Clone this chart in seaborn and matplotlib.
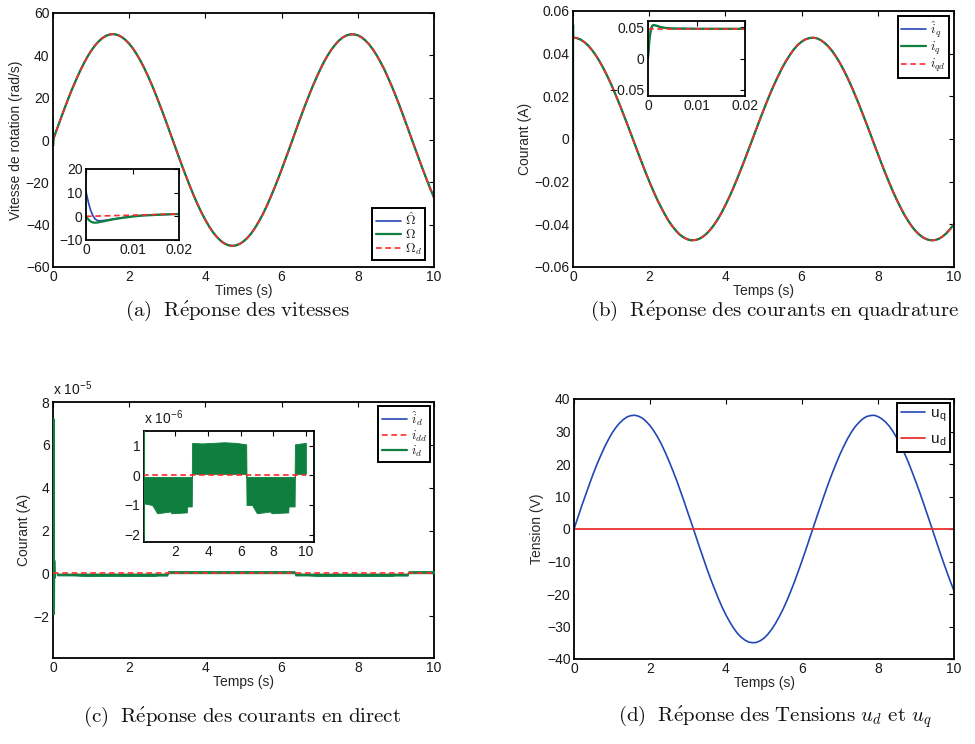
import numpy as np
import matplotlib
matplotlib.use("Agg")
import matplotlib.pyplot as plt
from matplotlib.ticker import FuncFormatter
import seaborn as sns

# ---------------------------------------------------------------- data
# sampling instants of the 10 s simulation (0.1 s step)
temps = np.linspace(0.0, 10.0, 101)

# (a) rotation speed reference Omega_d (rad/s)
vitesse_ref = [0, 5.0, 9.9, 14.8, 19.5, 24.0, 28.2, 32.2, 35.9, 39.2,
               42.1, 44.6, 46.6, 48.2, 49.3, 49.9, 50.0, 49.6, 48.7, 47.3,
               45.5, 43.2, 40.4, 37.3, 33.8, 29.9, 25.8, 21.4, 16.7, 12.0,
               7.1, 2.1, -2.9, -7.9, -12.8, -17.5, -22.1, -26.5, -30.6, -34.4,
               -37.8, -40.9, -43.6, -45.8, -47.6, -48.9, -49.7, -50.0, -49.8, -49.1,
               -47.9, -46.3, -44.2, -41.6, -38.6, -35.3, -31.6, -27.5, -23.2, -18.7,
               -14.0, -9.1, -4.2, 0.8, 5.8, 10.8, 15.6, 20.2, 24.7, 28.9,
               32.8, 36.5, 39.7, 42.5, 44.9, 46.9, 48.4, 49.4, 49.9, 49.9,
               49.5, 48.5, 47.0, 45.1, 42.7, 39.9, 36.7, 33.2, 29.2, 25.1,
               20.6, 16.0, 11.1, 6.2, 1.2, -3.8, -8.7, -13.6, -18.3, -22.9,
               -27.2]
# start-up transient of the speed (first 20 ms)
t_demarrage = [0, 0.0005, 0.001, 0.0015, 0.002, 0.0025, 0.003, 0.004, 0.005,
               0.006, 0.008, 0.010, 0.012, 0.015, 0.020]
vitesse_est_dem = [10.5, 6.0, 2.5, 0.2, -1.2, -1.8, -1.9, -1.7, -1.4, -1.1,
                   -0.5, 0.0, 0.4, 0.7, 1.0]
vitesse_mes_dem = [0, -1.3, -2.2, -2.6, -2.7, -2.6, -2.4, -2.0, -1.6, -1.2,
                   -0.6, -0.1, 0.3, 0.6, 1.0]
vitesse_ref_dem = [0, 0.025, 0.05, 0.075, 0.1, 0.125, 0.15, 0.2, 0.25, 0.3,
                   0.4, 0.5, 0.6, 0.75, 1.0]

# (b) quadrature current reference i_qd (A)
courant_q_ref = [0.0475, 0.0473, 0.0466, 0.0454, 0.0438, 0.0417, 0.0392, 0.0363, 0.0331, 0.0295,
                 0.0257, 0.0215, 0.0172, 0.0127, 0.0081, 0.0034, -0.0014, -0.0061, -0.0108, -0.0154,
                 -0.0198, -0.0240, -0.0280, -0.0316, -0.0350, -0.0381, -0.0407, -0.0429, -0.0448, -0.0461,
                 -0.0470, -0.0475, -0.0474, -0.0469, -0.0459, -0.0445, -0.0426, -0.0403, -0.0376, -0.0345,
                 -0.0310, -0.0273, -0.0233, -0.0190, -0.0146, -0.0100, -0.0053, -0.0006, 0.0042, 0.0089,
                 0.0135, 0.0180, 0.0223, 0.0263, 0.0301, 0.0337, 0.0368, 0.0396, 0.0421, 0.0441,
                 0.0456, 0.0467, 0.0473, 0.0475, 0.0472, 0.0464, 0.0451, 0.0434, 0.0413, 0.0387,
                 0.0358, 0.0325, 0.0289, 0.0250, 0.0208, 0.0165, 0.0119, 0.0073, 0.0026, -0.0022,
                 -0.0069, -0.0116, -0.0161, -0.0205, -0.0247, -0.0286, -0.0322, -0.0356, -0.0385, -0.0411,
                 -0.0433, -0.0450, -0.0463, -0.0471, -0.0475, -0.0474, -0.0468, -0.0457, -0.0442, -0.0422,
                 -0.0399]
t_dem_q = [0, 0.0003, 0.0006, 0.0009, 0.0012, 0.0018, 0.0025, 0.0035, 0.005,
           0.01, 0.02]
iq_est_dem = [0, 0.033, 0.048, 0.053, 0.0533, 0.052, 0.0502, 0.0488, 0.048,
              0.0476, 0.0475]
iq_mes_dem = [0, 0.030, 0.046, 0.0525, 0.0535, 0.0525, 0.0505, 0.049, 0.048,
              0.0476, 0.0475]
iq_ref_dem = [0.0475, 0.0475, 0.0475, 0.0475, 0.0475, 0.0475, 0.0475, 0.0475,
              0.0475, 0.0475, 0.0475]

# (c) direct current: start-up spike then chattering band (A)
t_dem_d = [0.0, 0.012, 0.022, 0.032, 0.042, 0.06]
id_est_dem = [0.0, 7.0e-5, -1.8e-5, 0.5e-5, -0.2e-5, 0.0]
id_mes_dem = [0.0, 7.2e-5, -1.9e-5, 0.6e-5, -0.2e-5, -0.05e-6]
t_bande = [0.10, 0.57, 0.88, 1.69, 1.75, 2.70, 2.72, 3.00,
           3.02, 3.60, 4.30, 5.00, 5.70, 6.34,
           6.36, 6.70, 7.00, 7.80, 7.90, 8.92, 8.94, 9.31,
           9.33, 10.0]
id_bas = [-0.95e-6, -1.0e-6, -1.28e-6, -1.22e-6, -1.28e-6, -1.25e-6, -1.05e-6, -1.05e-6,
          0.05e-6, 0.05e-6, 0.05e-6, 0.05e-6, 0.05e-6, 0.05e-6,
          -1.0e-6, -1.0e-6, -1.28e-6, -1.22e-6, -1.28e-6, -1.25e-6, -1.05e-6, -1.05e-6,
          0.05e-6, 0.05e-6]
id_haut = [-0.05e-6, -0.05e-6, -0.05e-6, -0.05e-6, -0.05e-6, -0.05e-6, -0.05e-6, -0.05e-6,
           1.10e-6, 1.08e-6, 1.10e-6, 1.12e-6, 1.10e-6, 1.05e-6,
           -0.05e-6, -0.05e-6, -0.05e-6, -0.05e-6, -0.05e-6, -0.05e-6, -0.05e-6, -0.05e-6,
           1.05e-6, 1.10e-6]
t_idd = [0.0, 10.0]
idd_ref = [0.0, 0.0]

# (d) voltages (V)
tension_q = [0, 3.5, 7.0, 10.3, 13.6, 16.8, 19.8, 22.5, 25.1, 27.4,
             29.5, 31.2, 32.6, 33.7, 34.5, 34.9, 35.0, 34.7, 34.1, 33.1,
             31.8, 30.2, 28.3, 26.1, 23.6, 20.9, 18.0, 15.0, 11.7, 8.4,
             4.9, 1.5, -2.0, -5.5, -8.9, -12.3, -15.5, -18.5, -21.4, -24.1,
             -26.5, -28.6, -30.5, -32.1, -33.3, -34.2, -34.8, -35.0, -34.9, -34.4,
             -33.6, -32.4, -30.9, -29.1, -27.0, -24.7, -22.1, -19.3, -16.3, -13.1,
             -9.8, -6.4, -2.9, 0.6, 4.1, 7.5, 10.9, 14.2, 17.3, 20.2,
             23.0, 25.5, 27.8, 29.8, 31.5, 32.8, 33.9, 34.6, 34.9, 35.0,
             34.6, 33.9, 32.9, 31.6, 29.9, 27.9, 25.7, 23.2, 20.5, 17.5,
             14.4, 11.2, 7.8, 4.4, 0.9, -2.6, -6.1, -9.5, -12.8, -16.0,
             -19.0]
t_ud = [0.0, 10.0]
tension_d = [0.0, 0.0]

# ---------------------------------------------------------------- style
sns.set_theme(style="white")
plt.rcParams.update({
    "font.family": ["Liberation Sans", "DejaVu Sans"],
    "mathtext.fontset": "cm",
    "axes.edgecolor": "black",
    "axes.grid": False,
    "text.color": "#1a1a1a",
})

BLEU = "#2347b5"
VERT = "#0f7f3f"
ROUGE = "#ff2a2a"
FS = 10


def fmt(scale=1.0):
    def f(v, pos):
        w = round(v / scale, 8) + 0.0
        return ("%g" % w).replace("-", "\u2212")
    return FuncFormatter(f)


def style(ax, fs=FS):
    ax.set_facecolor("white")
    for s in ax.spines.values():
        s.set_visible(True)
        s.set_color("black")
        s.set_linewidth(1.3)
    ax.tick_params(direction="in", top=True, right=True, length=3.5,
                   width=0.8, labelsize=fs, pad=2.5, colors="#1a1a1a")
    ax.tick_params(axis="both", which="both", color="black")


def trace(ax, x, y, color, ls="-", lw=1.2, z=2):
    sns.lineplot(x=np.asarray(x, float), y=np.asarray(y, float), ax=ax,
                 color=color, linestyle=ls, linewidth=lw, estimator=None,
                 sort=False, zorder=z)
    ln = ax.lines[-1]
    if ls == "--":
        ln.set_dashes([3.4, 2.2])
    return ln


def legende(fig, ax, handles, labels, anchor, loc, fs=9.5, hl=1.9, ls=0.0):
    W, H = fig.get_size_inches() * fig.dpi
    leg = ax.legend(handles, labels, loc=loc,
                    bbox_to_anchor=(anchor[0] / W, 1 - anchor[1] / H),
                    bbox_transform=fig.transFigure, borderaxespad=0,
                    fontsize=fs, frameon=True, fancybox=False, shadow=False,
                    handlelength=hl, handletextpad=0.3, labelspacing=ls,
                    borderpad=0.25)
    fr = leg.get_frame()
    fr.set_edgecolor("black")
    fr.set_linewidth(1.4)
    fr.set_alpha(1)
    leg.set_zorder(20)
    return leg


def rect(fig, x0, y0, x1, y1):
    W, H = fig.get_size_inches() * fig.dpi
    return [x0 / W, 1 - y1 / H, (x1 - x0) / W, (y1 - y0) / H]


def axes_temps(ax, ylabel, xlabel="Temps (s)"):
    ax.set_xlim(0, 10)
    ax.set_xticks([0, 2, 4, 6, 8, 10])
    ax.xaxis.set_major_formatter(fmt())
    ax.set_xlabel(xlabel, fontsize=FS, labelpad=0)
    ax.set_ylabel(ylabel, fontsize=FS, labelpad=2)


fig = plt.figure(figsize=(9.75, 7.44), dpi=100)
fig.patch.set_facecolor("white")

# ---------------------------------------------------------------- (a)
ax = fig.add_axes(rect(fig, 53, 13, 434, 267))
style(ax)
t_a = list(t_demarrage) + list(temps[1:])
h1 = trace(ax, t_a, vitesse_est_dem + vitesse_ref[1:], BLEU)
h2 = trace(ax, t_a, vitesse_mes_dem + vitesse_ref[1:], VERT, lw=1.6)
h3 = trace(ax, t_a, vitesse_ref_dem + vitesse_ref[1:], ROUGE, ls="--")
ax.set_ylim(-60, 60)
ax.set_yticks([-60, -40, -20, 0, 20, 40, 60])
ax.yaxis.set_major_formatter(fmt())
axes_temps(ax, "Vitesse de rotation (rad/s)", "Times (s)")
legende(fig, ax, [h1, h2, h3], [r"$\hat{\Omega}$", r"$\Omega$", r"$\Omega_d$"],
        (425, 260), "lower right")

ins = fig.add_axes(rect(fig, 86, 169, 179, 240), zorder=10)
style(ins)
trace(ins, t_demarrage, vitesse_est_dem, BLEU)
trace(ins, t_demarrage, vitesse_mes_dem, VERT, lw=1.6)
trace(ins, t_demarrage, vitesse_ref_dem, ROUGE, ls="--")
ins.set_xlim(0, 0.02)
ins.set_ylim(-10, 20)
ins.set_xticks([0, 0.01, 0.02])
ins.set_yticks([-10, 0, 10, 20])
ins.xaxis.set_major_formatter(fmt())
ins.yaxis.set_major_formatter(fmt())
ins.set_xlabel("")
ins.set_ylabel("")

# ---------------------------------------------------------------- (b)
ax = fig.add_axes(rect(fig, 573, 11, 954, 267))
style(ax)
t_b = list(t_dem_q) + list(temps[1:])
h1 = trace(ax, t_b, iq_est_dem + courant_q_ref[1:], BLEU)
h2 = trace(ax, t_b, iq_mes_dem + courant_q_ref[1:], VERT, lw=1.6)
h3 = trace(ax, t_b, iq_ref_dem + courant_q_ref[1:], ROUGE, ls="--")
ax.set_ylim(-0.06, 0.06)
ax.set_yticks([-0.06, -0.04, -0.02, 0, 0.02, 0.04, 0.06])
ax.yaxis.set_major_formatter(fmt())
axes_temps(ax, "Courant (A)")
legende(fig, ax, [h1, h2, h3], [r"$\hat{i}_q$", r"$i_q$", r"$i_{qd}$"],
        (949, 16), "upper right")

ins = fig.add_axes(rect(fig, 648, 21, 745, 96), zorder=10)
style(ins)
trace(ins, t_dem_q, iq_est_dem, BLEU)
trace(ins, t_dem_q, iq_mes_dem, VERT, lw=1.6)
trace(ins, t_dem_q, iq_ref_dem, ROUGE, ls="--")
ins.set_xlim(0, 0.02)
ins.set_ylim(-0.06, 0.06)
ins.set_xticks([0, 0.01, 0.02])
ins.set_yticks([-0.05, 0, 0.05])
ins.xaxis.set_major_formatter(fmt())
ins.yaxis.set_major_formatter(fmt())
ins.set_xlabel("")
ins.set_ylabel("")


# ---------------------------------------------------------------- (c)
def courant_d(axc):
    hb = trace(axc, t_dem_d, id_est_dem, BLEU, z=2)
    axc.fill_between(t_bande, id_bas, id_haut, color=VERT, lw=0.6,
                     edgecolor=VERT, zorder=3)
    hr = trace(axc, t_idd, idd_ref, ROUGE, ls="--", z=4)
    hg = trace(axc, t_dem_d, id_mes_dem, VERT, lw=1.6, z=3)
    return hb, hr, hg


ax = fig.add_axes(rect(fig, 53, 402, 434, 658))
style(ax)
h1, h2, h3 = courant_d(ax)
ax.set_ylim(-3.95e-5, 8e-5)
ax.set_yticks([-2e-5, 0, 2e-5, 4e-5, 6e-5, 8e-5])
ax.yaxis.set_major_formatter(fmt(1e-5))
axes_temps(ax, "Courant (A)")
ax.annotate(r"x 10$^{\mathregular{-5}}$",
            xy=(0, 1), xycoords="axes fraction", xytext=(0, 3),
            textcoords="offset points", ha="left", va="bottom", fontsize=FS)
legende(fig, ax, [h1, h2, h3], [r"$\hat{i}_d$", r"$i_{dd}$", r"$i_d$"],
        (430, 406), "upper right")

ins = fig.add_axes(rect(fig, 144, 431, 314, 542), zorder=10)
style(ins)
courant_d(ins)
ins.set_xlim(0.07, 10.5)
ins.set_ylim(-2.25e-6, 1.5e-6)
ins.set_xticks([2, 4, 6, 8, 10])
ins.set_yticks([-2e-6, -1e-6, 0, 1e-6])
ins.xaxis.set_major_formatter(fmt())
ins.yaxis.set_major_formatter(fmt(1e-6))
ins.set_xlabel("")
ins.set_ylabel("")
ins.annotate(r"x 10$^{\mathregular{-6}}$", xy=(0, 1), xycoords="axes fraction",
             xytext=(0, 3), textcoords="offset points", ha="left",
             va="bottom", fontsize=FS)

# ---------------------------------------------------------------- (d)
ax = fig.add_axes(rect(fig, 574, 399, 954, 659))
style(ax)
h1 = trace(ax, temps, tension_q, BLEU)
h2 = trace(ax, t_ud, tension_d, "#e83030", lw=1.3)
ax.set_ylim(-40, 40)
ax.set_yticks(list(range(-40, 41, 10)))
ax.yaxis.set_major_formatter(fmt())
axes_temps(ax, "Tension (V)")
legende(fig, ax, [h1, h2], [r"u$_{\mathregular{q}}$", r"u$_{\mathregular{d}}$"],
        (950, 403), "upper right", fs=FS + 1, hl=1.6, ls=0.55)

# ---------------------------------------------------------------- captions
W, H = 975, 744
cap = dict(ha="center", va="center", fontsize=15, color="#111111")
fig.text(237 / W, 1 - 311 / H,
         r"$\mathrm{(a)\ \ R\acute{e}ponse\ des\ vitesses}$", **cap)
fig.text(775 / W, 1 - 311 / H,
         r"$\mathrm{(b)\ \ R\acute{e}ponse\ des\ courants\ en\ quadrature}$", **cap)
fig.text(242 / W, 1 - 717 / H,
         r"$\mathrm{(c)\ \ R\acute{e}ponse\ des\ courants\ en\ direct}$", **cap)
fig.text(775 / W, 1 - 717 / H,
         r"$\mathrm{(d)\ \ R\acute{e}ponse\ des\ Tensions\ }u_d\mathrm{\ et\ }u_q$", **cap)

fig.savefig("out.png", dpi=100, facecolor="white")
